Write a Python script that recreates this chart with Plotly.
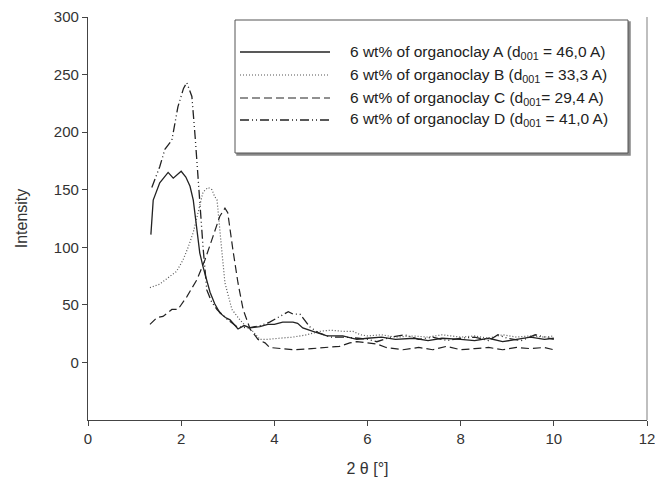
import plotly.graph_objects as go

# ---- data ----
x_A = [1.35, 1.4, 1.54, 1.72, 1.83, 2.0, 2.1, 2.19, 2.26, 2.33, 2.4, 2.47, 2.55, 2.62, 2.72, 2.83, 2.95, 3.05, 3.22, 3.35, 3.48, 3.69, 3.86, 4.0, 4.18, 4.4, 4.5, 4.61, 4.83, 5.13, 5.47, 5.77, 6.0, 6.3, 6.6, 7.0, 7.3, 7.6, 8.0, 8.3, 8.6, 8.9, 9.2, 9.5, 9.8, 10.0]
y_A = [111, 141, 156, 165, 160, 166, 161, 153, 141, 120, 95, 83, 72, 61, 51, 43, 39, 37, 29, 32, 30, 31, 33, 33, 35, 35, 34, 30, 27, 23, 23, 20, 21, 22, 20, 21, 19, 21, 20, 19, 21, 18, 20, 22, 20, 21]

x_B = [1.33, 1.54, 1.7, 1.9, 2.04, 2.15, 2.26, 2.36, 2.47, 2.58, 2.66, 2.72, 2.77, 2.87, 2.94, 3.09, 3.26, 3.4, 3.54, 3.69, 3.84, 4.1, 4.4, 4.7, 4.98, 5.2, 5.47, 5.69, 5.85, 6.0, 6.3, 6.6, 7.0, 7.3, 7.6, 8.0, 8.3, 8.6, 8.9, 9.2, 9.5, 9.8, 10.0]
y_B = [65, 68, 73, 79, 89, 100, 113, 130, 148, 152, 150, 144, 141, 98, 69, 46, 37, 31, 27, 20, 20, 21, 22, 24, 27, 28, 27, 27, 24, 23, 24, 22, 23, 22, 24, 22, 23, 21, 24, 22, 23, 22, 23]

x_C = [1.33, 1.48, 1.61, 1.8, 1.93, 2.12, 2.34, 2.51, 2.68, 2.83, 2.94, 3.0, 3.11, 3.22, 3.33, 3.48, 3.65, 3.8, 3.9, 4.1, 4.4, 4.8, 5.13, 5.4, 5.62, 5.77, 6.0, 6.2, 6.4, 6.76, 7.1, 7.4, 7.7, 8.0, 8.3, 8.6, 8.9, 9.2, 9.5, 9.8, 10.0]
y_C = [33, 39, 40, 46, 46, 57, 72, 89, 109, 127, 134, 130, 98, 69, 46, 29, 20, 17, 13, 12, 11, 12, 13, 14, 17, 18, 17, 16, 13, 11, 13, 11, 14, 11, 12, 13, 11, 13, 12, 13, 11]

x_D = [1.37, 1.45, 1.54, 1.65, 1.8, 1.93, 2.05, 2.12, 2.23, 2.3, 2.36, 2.4, 2.47, 2.55, 2.66, 2.77, 3.0, 3.2, 3.45, 3.7, 3.9, 4.12, 4.3, 4.4, 4.55, 4.76, 4.94, 5.2, 5.5, 5.8, 6.0, 6.2, 6.5, 6.8, 7.1, 7.4, 7.7, 8.0, 8.3, 8.6, 8.8, 9.0, 9.3, 9.6, 9.8, 10.0]
y_D = [152, 160, 170, 185, 193, 222, 238, 243, 231, 196, 159, 139, 100, 63, 52, 46, 37, 31, 30, 32, 35, 40, 44, 42, 42, 31, 26, 22, 22, 21, 20, 18, 22, 24, 20, 22, 19, 21, 22, 19, 24, 21, 19, 24, 22, 20]

series_names = [
    "6 wt% of organoclay A (d<sub>001</sub> = 46,0 A)",
    "6 wt% of organoclay B (d<sub>001</sub> = 33,3 A)",
    "6 wt% of organoclay C (d<sub>001</sub>= 29,4 A)",
    "6 wt% of organoclay D (d<sub>001</sub> = 41,0 A)",
]
x_tick_vals = [0, 2, 4, 6, 8, 10, 12]
y_tick_vals = [0, 50, 100, 150, 200, 250, 300]

# ---- styles ----
styles = [
    dict(color="#222222", width=1.3, dash="solid"),
    dict(color="#555555", width=1.2, dash="1px,2px"),
    dict(color="#222222", width=1.2, dash="8px,4px"),
    dict(color="#222222", width=1.3, dash="9px,3px,1px,3px,1px,3px"),
]

fig = go.Figure()
for xs, ys, name, st in zip([x_A, x_B, x_C, x_D], [y_A, y_B, y_C, y_D], series_names, styles):
    fig.add_trace(go.Scatter(x=xs, y=ys, mode="lines", name=name, line=st, showlegend=False))

font_family = "Liberation Sans, Arial, sans-serif"
fig.update_layout(
    width=655, height=484,
    margin=dict(l=88, r=8, t=17, b=64),
    paper_bgcolor="white", plot_bgcolor="white",
    font=dict(family=font_family, color="#333333", size=15),
    xaxis=dict(range=[0, 12], tickvals=x_tick_vals, showgrid=False, zeroline=False,
               showline=True, linecolor="#444444", linewidth=1.2, automargin=False,
               ticks="outside", ticklen=5, tickcolor="#444444", ticklabeloverflow="allow",
               tickfont=dict(size=15, color="#333333"),
               title=dict(text="2 θ [°]", font=dict(size=16, color="#333333"), standoff=16)),
    yaxis=dict(range=[-50, 300], tickvals=y_tick_vals, showgrid=False, zeroline=False,
               showline=True, linecolor="#444444", linewidth=1.2, automargin=False,
               ticks="outside", ticklen=5, tickcolor="#444444",
               tickfont=dict(size=15, color="#333333"),
               title=dict(text="Intensity", font=dict(size=16, color="#333333"), standoff=22)),
)

# right frame line
fig.add_shape(type="line", xref="paper", yref="paper", x0=1, x1=1, y0=0, y1=1,
              line=dict(color="#aaaaaa", width=1.5))

# manual legend box (shadow + box)
px_w, px_h = 559.0, 403.0
def px_to_paper(px, py):
    return (px - 88) / px_w, (420 - py) / px_h

bx0, by1 = px_to_paper(235, 20)
bx1, by0 = px_to_paper(628, 153)
sx0, sy1 = px_to_paper(237, 22)
sx1, sy0 = px_to_paper(630, 155)
fig.add_shape(type="rect", xref="paper", yref="paper", x0=sx0, x1=sx1, y0=sy0, y1=sy1,
              line=dict(color="#888888", width=1.5), fillcolor="#888888", layer="above")
fig.add_shape(type="rect", xref="paper", yref="paper", x0=bx0, x1=bx1, y0=by0, y1=by1,
              line=dict(color="#555555", width=1), fillcolor="white", layer="above")

row_py = [52, 75, 98, 120]
for name, st, py in zip(series_names, styles, row_py):
    lx0, ly = px_to_paper(240, py)
    lx1, _ = px_to_paper(330, py)
    fig.add_shape(type="line", xref="paper", yref="paper", x0=lx0, x1=lx1, y0=ly, y1=ly,
                  line=st, layer="above")
    tx, _ = px_to_paper(348, py)
    fig.add_annotation(xref="paper", yref="paper", x=tx, y=ly, text=name, showarrow=False,
                       xanchor="left", yanchor="middle",
                       font=dict(size=15.5, color="#222222", family=font_family))

fig.write_html("out.html", config={"displayModeBar": False},
               post_script="document.body.style.margin='0';")
